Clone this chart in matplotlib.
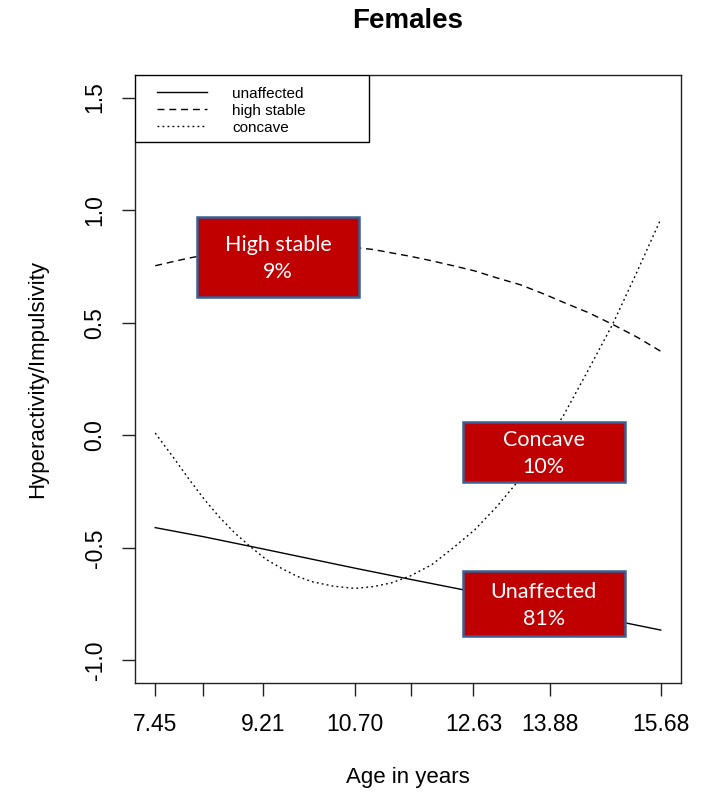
import matplotlib
matplotlib.use('Agg')

import matplotlib.pyplot as plt
from matplotlib.patches import Rectangle

# assessment ages shown on the x axis
ages = [7.45, 8.23, 9.21, 10.70, 11.61, 12.63, 13.88, 15.68]
age_labels = ['7.45', '', '9.21', '10.70', '', '12.63', '13.88', '15.68']

# unaffected group: straight decline across the assessments
unaffected = [-0.41, -0.45, -0.505, -0.59, -0.64, -0.695, -0.765, -0.865]

# curved trajectories, read at a finer age grid
curve_ages = [7.45, 7.75, 8.0, 8.25, 8.5, 8.75, 9.0, 9.25, 9.5, 9.75, 10.0,
              10.35, 10.7, 11.0, 11.3, 11.6, 11.95, 12.3, 12.65, 13.0, 13.4,
              13.8, 14.1, 14.5, 14.9, 15.3, 15.68]
high_stable = [0.753, 0.772, 0.787, 0.80, 0.81, 0.818, 0.825, 0.83, 0.834,
               0.837, 0.838, 0.837, 0.834, 0.825, 0.81, 0.795, 0.775, 0.753,
               0.73, 0.70, 0.668, 0.625, 0.59, 0.545, 0.492, 0.435, 0.373]
concave = [0.01, -0.10, -0.195, -0.285, -0.365, -0.435, -0.495, -0.55, -0.59,
           -0.625, -0.65, -0.67, -0.68, -0.672, -0.655, -0.625, -0.575, -0.50,
           -0.42, -0.32, -0.19, -0.04, 0.09, 0.29, 0.495, 0.73, 0.96]

y_ticks = [-1.0, -0.5, 0.0, 0.5, 1.0, 1.5]
y_labels = ['-1.0', '-0.5', '0.0', '0.5', '1.0', '1.5']

legend_names = ['unaffected', 'high stable', 'concave']
group_names = ['High stable', 'Concave', 'Unaffected']
group_share = [9, 10, 81]

W, H = 705, 795
fig = plt.figure(figsize=(W / 100, H / 100), dpi=100)
plt.rcParams['font.family'] = ['Liberation Sans', 'DejaVu Sans']

# plot region in pixels: left 135, right 681, top 75, bottom 683
ax = fig.add_axes([135 / W, 1 - 683 / H, 546 / W, 608 / H])

styles = {
    'unaffected': dict(linestyle='-'),
    'high stable': dict(linestyle=(0, (5, 3.5))),
    'concave': dict(linestyle=(0, (1.3, 2.3))),
}

ax.plot(ages, unaffected, color='black', linewidth=1.0, **styles['unaffected'])
ax.plot(curve_ages, high_stable, color='black', linewidth=1.0,
        **styles['high stable'])
ax.plot(curve_ages, concave, color='black', linewidth=1.0, **styles['concave'])

span = ages[-1] - ages[0]
ax.set_xlim(ages[0] - 0.04 * span, ages[-1] + 0.04 * span)
ax.set_ylim(-1.1, 1.6)

ax.set_xticks(ages)
ax.set_xticklabels(age_labels)
ax.set_yticks(y_ticks)
ax.set_yticklabels(y_labels, rotation=90, va='center')
ax.tick_params(length=9.5, width=1.0, labelsize=16.5, color='#222222')
ax.tick_params(axis='x', pad=12)
ax.tick_params(axis='y', pad=11)
for s in ax.spines.values():
    s.set_linewidth(1.0)
    s.set_color('#222222')

# legend box in the top left corner, R style
ax.add_patch(Rectangle((0, 0.8898), 0.4286, 0.1102, transform=ax.transAxes,
                       facecolor='white', edgecolor='black', linewidth=1.0,
                       zorder=5))
row_y = [0.9688, 0.9408, 0.9128]
for name, yy in zip(legend_names, row_y):
    ax.plot([0.0403, 0.1319], [yy + 0.003, yy + 0.003], transform=ax.transAxes,
            color='black', linewidth=1.0, zorder=6, **styles[name])
    ax.text(0.1777, yy, name, transform=ax.transAxes, fontsize=11,
            va='center', ha='left', zorder=6)

# labelled group boxes, placed in data units
box_xy = [(8.13, 0.613, 10.77, 0.970),
          (12.46, -0.206, 15.09, 0.058),
          (12.46, -0.890, 15.09, -0.604)]
for name, share, (x0, y0, x1, y1) in zip(group_names, group_share, box_xy):
    ax.add_patch(Rectangle((x0, y0), x1 - x0, y1 - y0, facecolor='#c00000',
                           edgecolor='#3a5e95', linewidth=1.8, zorder=7))
    ax.text((x0 + x1) / 2, (y0 + y1) / 2 - 0.008, f'{name}\n{share}%',
            color='white', fontsize=15.5, family=['Lato', 'DejaVu Sans'],
            ha='center', va='center', linespacing=1.45, zorder=8)

fig.text(408 / W, 1 - 21 / H, 'Females', fontsize=20, fontweight='bold',
         ha='center', va='center')
fig.text(408 / W, 1 - 778 / H, 'Age in years', fontsize=16,
         ha='center', va='center')
fig.text(38 / W, 1 - 379 / H, 'Hyperactivity/Impulsivity', fontsize=16,
         rotation=90, ha='center', va='center')

fig.savefig('out.png', dpi=100)
